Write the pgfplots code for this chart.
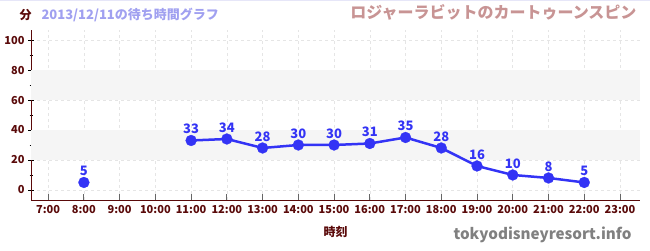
\documentclass[border=0pt]{standalone}
\usepackage{pgfplots}
\pgfplotsset{compat=1.18}
\usepackage{fontspec}
\setmainfont{Noto Sans CJK JP}
\definecolor{axred}{HTML}{5A0A0A}
\definecolor{ser}{HTML}{3333F5}
\definecolor{ttl}{HTML}{C89494}
\definecolor{sub}{HTML}{A0A0F0}
\definecolor{band}{HTML}{F5F5F5}
\begin{document}
\begin{tikzpicture}
\useasboundingbox (0pt,0pt) rectangle (650pt,250pt);
\draw[color={rgb,255:red,230;green,230;blue,248}, line width=1.5pt] (0pt,249.5pt) -- (650pt,249.5pt);
\begin{axis}[
    at={(31pt,50pt)}, anchor=south west,
    scale only axis, width=609pt, height=170pt,
    xmin=6.52, xmax=23.56, ymin=-6.7, ymax=106.7,
    axis x line*=bottom, axis y line*=left,
    axis line style={axred, line width=0.8pt},
    xtick={7,...,23},
    xticklabels={7:00,8:00,9:00,10:00,11:00,12:00,13:00,14:00,15:00,16:00,17:00,18:00,19:00,20:00,21:00,22:00,23:00},
    ytick={0,20,...,100}, minor ytick={10,30,...,90},
    xtick style={black!60, line width=0.8pt},
    ytick style={black, line width=0.8pt},
    minor tick style={red!80!black, line width=0.6pt},
    tick align=center, major tick length=6pt, minor tick length=3pt,
    xtick align=inside,
    grid=major, major grid style={dashed, black!10, line width=0.6pt},
    ticklabel style={font=\fontsize{11}{12}\selectfont\bfseries, text=axred},
    xticklabel style={yshift=-2pt},
    /pgf/number format/assume math mode=true,
    xlabel={時刻}, xlabel style={font=\fontsize{12}{13}\selectfont\bfseries, text=axred, yshift=-6pt},
    unbounded coords=jump,
    nodes near coords,
    every node near coord/.append style={font=\fontsize{13}{14}\selectfont\bfseries, text=ser, yshift=3pt},
    clip=false,
]
\fill[band] (axis cs:6.52,20) rectangle (axis cs:23.56,40);
\fill[band] (axis cs:6.52,60) rectangle (axis cs:23.56,80);
\addplot[ser, line width=2.5pt, mark=*, mark size=5.5pt, mark options={solid, fill=ser, draw=ser, line width=0.2pt}] coordinates {
(8,5) (9,nan) (10,nan) (11,33) (12,34) (13,28) (14,30) (15,30) (16,31) (17,35) (18,28) (19,16) (20,10) (21,8) (22,5)};
\end{axis}
\node[anchor=base west, font=\fontsize{12}{13}\selectfont\bfseries, text=axred] at (16pt,231pt) {分};
\node[anchor=base west, font=\fontsize{13}{14}\selectfont\bfseries, text=sub] at (38pt,231pt) {2013/12/11の待ち時間グラフ};
\node[anchor=base east, font=\fontsize{16}{17}\selectfont\bfseries, text=ttl] at (640pt,232pt) {ロジャーラビットのカートゥーンスピン};
\node[anchor=base east, font=\fontsize{15.2}{16}\selectfont\bfseries, text=black!50] at (635pt,11pt) {tokyodisneyresort.info};
\end{tikzpicture}
\end{document}
